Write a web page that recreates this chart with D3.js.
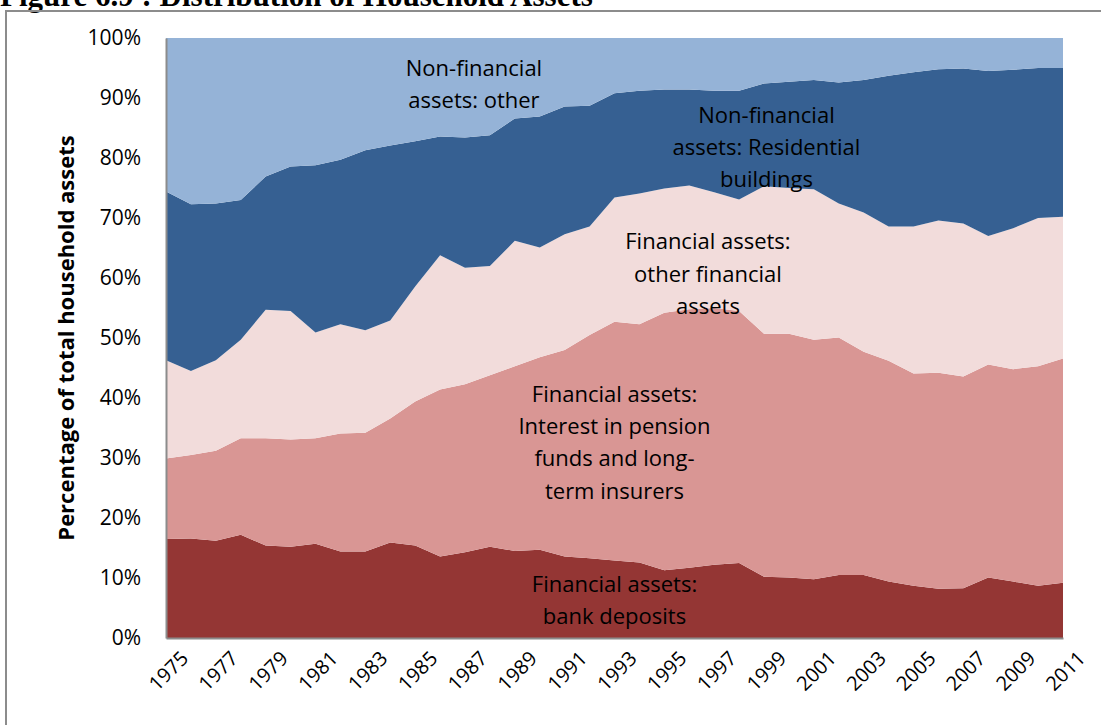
<!DOCTYPE html>
<html>
<head>
<meta charset="utf-8">
<script src="https://cdn.jsdelivr.net/npm/d3@7"></script>
<style>
    body { margin: 0; background: #fff; }
    text { font-family: "Open Sans", Lato, sans-serif; fill: #000; }
</style>
</head>
<body>
<svg id="drawing_region"></svg>
<script>
const years = d3.range(1975, 2012);

// shares of total household assets (%)
const bankDeposits = [16.5,16.6,16.2,17.2,15.4,15.2,15.7,14.4,14.4,15.9,15.4,13.6,14.3,15.2,14.5,14.7,13.6,13.3,12.9,12.6,11.3,11.7,12.2,12.5,10.2,10.1,9.8,10.5,10.5,9.4,8.7,8.2,8.3,10.1,9.4,8.7,9.2];
const pensionFunds = [13.4,13.9,15.0,16.1,17.9,17.9,17.6,19.7,19.8,20.7,24.0,27.8,28.0,28.6,30.8,32.1,34.4,37.2,39.8,39.7,42.9,43.1,42.8,42.0,40.5,40.6,39.9,39.6,37.2,36.8,35.4,36.0,35.3,35.5,35.4,36.6,37.4];
const otherFinancial = [16.4,14.0,15.1,16.4,21.4,21.4,17.6,18.2,17.1,16.3,19.2,22.4,19.4,18.2,20.9,18.3,19.3,18.1,20.7,21.8,20.7,20.6,19.3,18.6,24.6,24.3,25.1,22.3,23.2,22.4,24.5,25.4,25.5,21.4,23.5,24.7,23.6];
const residential = [28.1,27.8,26.1,23.3,22.2,24.1,27.9,27.4,30.0,29.2,24.2,19.8,21.7,21.8,20.4,21.8,21.3,20.1,17.4,17.1,16.5,16.0,16.9,18.1,17.1,17.7,18.2,20.2,22.1,25.1,25.7,25.2,25.8,27.5,26.4,25.0,24.8];
const otherNonFinancial = [25.6,27.7,27.6,27.0,23.1,21.4,21.2,20.3,18.7,17.9,17.2,16.4,16.6,16.2,13.4,13.1,11.4,11.3,9.2,8.8,8.6,8.6,8.8,8.8,7.6,7.3,7.0,7.4,7.0,6.3,5.7,5.2,5.1,5.5,5.3,5.0,5.0];

const seriesKeys = ["bank", "pension", "otherFin", "resid", "otherNonFin"];
const seriesColors = ["#943634", "#d99694", "#f2dcdb", "#366092", "#95b3d7"];
const yTicks = [0, 10, 20, 30, 40, 50, 60, 70, 80, 90, 100];
const xTickYears = d3.range(1975, 2012, 2);

// in-chart labels: [lines, year, percent] for the centre of the block
const areaLabels = [
    [["Non-financial", "assets: other"], 1987.36, 92.3],
    [["Non-financial", "assets: Residential", "buildings"], 1999.1, 81.8],
    [["Financial assets:", "other financial", "assets"], 1996.75, 60.7],
    [["Financial assets:", "Interest in pension", "funds and long-", "term insurers"], 1993.0, 32.6],
    [["Financial assets:", "bank deposits"], 1993.0, 6.3]
];

const table = years.map((y, i) => ({
    year: y,
    bank: bankDeposits[i],
    pension: pensionFunds[i],
    otherFin: otherFinancial[i],
    resid: residential[i],
    otherNonFin: otherNonFinancial[i]
}));

const config = {
    width: 1101,
    height: 725,
    margin: {top: 38, right: 38, bottom: 87, left: 166}
};

const svg = d3.select('#drawing_region')
    .attr('width', config.width)
    .attr('height', config.height);

// page title, mostly cut off at the top
svg.append('text')
    .attr('x', 0)
    .attr('y', 6)
    .style('font-family', '"Liberation Serif", serif')
    .attr('font-weight', 'bold')
    .attr('font-size', '31px')
    .text('Figure 6.9 : Distribution of Household Assets');

// chart frame
svg.append('rect')
    .attr('x', 6)
    .attr('y', 11)
    .attr('width', 1200)
    .attr('height', 800)
    .attr('fill', 'none')
    .attr('stroke', '#8c8c8c')
    .attr('stroke-width', 2);

const inner_width = config.width - config.margin.left - config.margin.right;
const inner_height = config.height - config.margin.top - config.margin.bottom;

const chart = svg.append('g')
    .attr('transform', `translate(${config.margin.left}, ${config.margin.top})`);

const xscale = d3.scaleLinear()
    .domain([1975, 2011])
    .range([0, inner_width]);

const yscale = d3.scaleLinear()
    .domain([0, 100])
    .range([inner_height, 0]);

const stacked = d3.stack().keys(seriesKeys)(table);

const area = d3.area()
    .x(d => xscale(d.data.year))
    .y0(d => yscale(d[0]))
    .y1(d => yscale(d[1]));

chart.selectAll('path.layer')
    .data(stacked)
    .enter()
    .append('path')
    .attr('class', 'layer')
    .attr('d', area)
    .attr('fill', (d, i) => seriesColors[i]);

// axes
const yaxis = d3.axisLeft(yscale)
    .tickValues(yTicks)
    .tickSize(0)
    .tickPadding(25)
    .tickFormat(d => d + '%');

const yaxis_group = chart.append('g').call(yaxis);
yaxis_group.select('.domain').attr('stroke', '#8c8c8c').attr('stroke-width', 2);
yaxis_group.selectAll('text')
    .attr('font-size', '21px')
    .style('font-family', '"Open Sans", sans-serif');

const xaxis = d3.axisBottom(xscale)
    .tickValues(xTickYears)
    .tickSize(0)
    .tickFormat(d3.format('d'));

const xaxis_group = chart.append('g')
    .attr('transform', `translate(0, ${inner_height})`)
    .call(xaxis);
xaxis_group.select('.domain').attr('stroke', '#8c8c8c').attr('stroke-width', 2);
xaxis_group.selectAll('text')
    .attr('font-size', '20px')
    .style('font-family', '"Open Sans", sans-serif')
    .attr('text-anchor', 'middle')
    .attr('dy', '0.35em')
    .attr('y', 0)
    .attr('transform', 'translate(2, 33) rotate(-45)');

// y axis title
svg.append('text')
    .attr('transform', `translate(66, ${config.margin.top + inner_height / 2}) rotate(-90)`)
    .attr('text-anchor', 'middle')
    .attr('dy', '0.35em')
    .attr('font-weight', 'bold')
    .attr('font-size', '22px')
    .text('Percentage of total household assets');

// labels inside the areas
const lineHeight = 32.3;
areaLabels.forEach(([lines, yr, pct]) => {
    const t = chart.append('text')
        .attr('text-anchor', 'middle')
        .attr('font-size', '22px')
        .attr('x', xscale(yr))
        .attr('y', yscale(pct) - (lines.length - 1) * lineHeight / 2);
    lines.forEach((ln, j) => {
        t.append('tspan')
            .attr('x', xscale(yr))
            .attr('dy', j === 0 ? '0.35em' : lineHeight)
            .text(ln);
    });
});
</script>
</body>
</html>
